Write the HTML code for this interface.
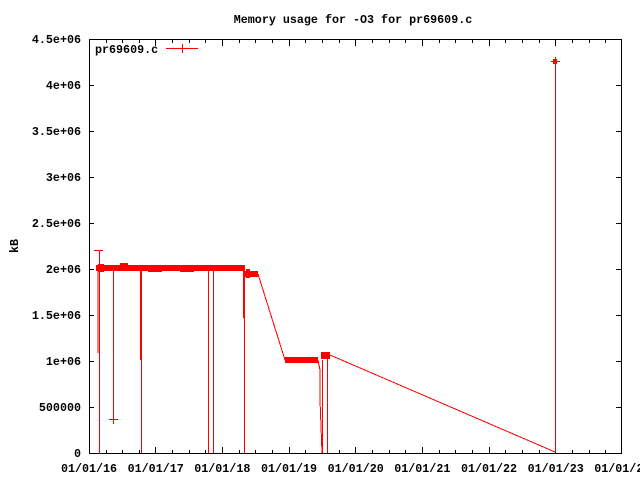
<!DOCTYPE html>
<html><head><style>
html,body{margin:0;padding:0;background:#fff;}
svg{display:block;font-family:"Liberation Mono",monospace;font-weight:bold;font-size:11.7px;}
</style></head><body>
<svg width="640" height="480" viewBox="0 0 640 480" xmlns="http://www.w3.org/2000/svg" shape-rendering="crispEdges">
<text x="353" y="23" text-anchor="middle">Memory usage for -O3 for pr69609.c</text>
<text transform="translate(18,246) rotate(-90)" text-anchor="middle">kB</text>
<g text-anchor="end">
<text x="81" y="43">4.5e+06</text>
<text x="81" y="89">4e+06</text>
<text x="81" y="135">3.5e+06</text>
<text x="81" y="181">3e+06</text>
<text x="81" y="227">2.5e+06</text>
<text x="81" y="273">2e+06</text>
<text x="81" y="319">1.5e+06</text>
<text x="81" y="365">1e+06</text>
<text x="81" y="411">500000</text>
<text x="81" y="457">0</text>
</g>
<g text-anchor="middle">
<text x="89" y="472">01/01/16</text>
<text x="155.7" y="472">01/01/17</text>
<text x="222.3" y="472">01/01/18</text>
<text x="289" y="472">01/01/19</text>
<text x="355.7" y="472">01/01/20</text>
<text x="422.3" y="472">01/01/21</text>
<text x="489" y="472">01/01/22</text>
<text x="555.7" y="472">01/01/23</text>
<text x="622.3" y="472">01/01/24</text>
</g>
<rect x="89.5" y="39.5" width="532" height="414" fill="none" stroke="#000"/>
<g stroke="#000">
<path d="M89 85.5h5M89 131.5h5M89 177.5h5M89 223.5h5M89 269.5h5M89 315.5h5M89 361.5h5M89 407.5h5
M621 85.5h-5M621 131.5h-5M621 177.5h-5M621 223.5h-5M621 269.5h-5M621 315.5h-5M621 361.5h-5M621 407.5h-5"/>
<path d="M155.5 453v-6M222.5 453v-6M289.5 453v-6M355.5 453v-6M422.5 453v-6M489.5 453v-6M555.5 453v-6
M155.5 40v6M222.5 40v6M289.5 40v6M355.5 40v6M422.5 40v6M489.5 40v6M555.5 40v6
M106.5 453v-3M122.5 453v-3M139.5 453v-3M172.5 453v-3M189.5 453v-3M205.5 453v-3M239.5 453v-3M255.5 453v-3M272.5 453v-3M305.5 453v-3M322.5 453v-3M339.5 453v-3M372.5 453v-3M389.5 453v-3M405.5 453v-3M439.5 453v-3M455.5 453v-3M472.5 453v-3M505.5 453v-3M522.5 453v-3M539.5 453v-3M572.5 453v-3M589.5 453v-3M605.5 453v-3
M106.5 40v3M122.5 40v3M139.5 40v3M172.5 40v3M189.5 40v3M205.5 40v3M239.5 40v3M255.5 40v3M272.5 40v3M305.5 40v3M322.5 40v3M339.5 40v3M372.5 40v3M389.5 40v3M405.5 40v3M439.5 40v3M455.5 40v3M472.5 40v3M505.5 40v3M522.5 40v3M539.5 40v3M572.5 40v3M589.5 40v3M605.5 40v3"/>
</g>
<text x="95" y="53">pr69609.c</text>
<g stroke="#f00" fill="none">
<path d="M166 48.5h32M182.5 44v9"/>
<path d="M99.5 250v204M94 250.5h9M98 268v85"/>
<path d="M113.5 268v151M109 419.5h9M113.5 415v9"/>
<path d="M141.5 268v185M140.5 268v92"/>
<path d="M208.5 268v185M213.5 268v185M244.5 268v185M243.5 268v50"/>
<path d="M258 274L285 360"/>
<path d="M318 360l2 10v30l2 53M322.5 360v93M327.5 355v98"/>
<path d="M330 355L555 452M555.5 452V57M551 61.5h9"/>
</g>
<g fill="#f00">
<rect x="96" y="265" width="149" height="6"/>
<rect x="98" y="264" width="6" height="8"/>
<rect x="120" y="263" width="8" height="8"/>
<rect x="148" y="265" width="14" height="7"/>
<rect x="180" y="265" width="14" height="7"/>
<rect x="244" y="271" width="14" height="6"/>
<rect x="246" y="269" width="4" height="9"/>
<rect x="285" y="357" width="33" height="6"/>
<rect x="321" y="352" width="9" height="7"/>
<rect x="553" y="59" width="4" height="5"/>
</g>
</svg>
</body></html>
